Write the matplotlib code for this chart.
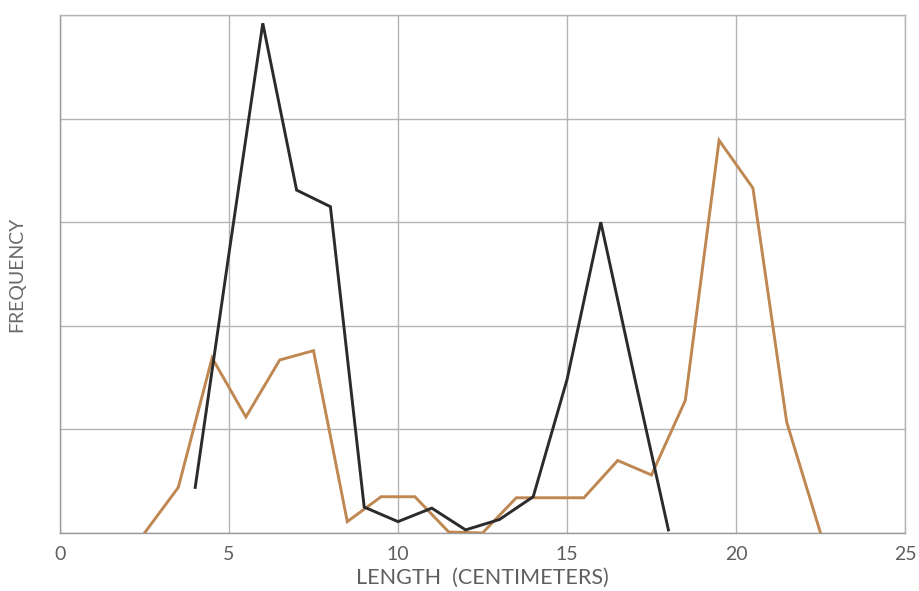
import matplotlib
matplotlib.use("Agg")
import matplotlib.pyplot as plt

# Black series: sampled at whole centimetres
black_x = [4, 5, 6, 7, 8, 9, 10, 11, 12, 13, 14, 15, 16, 17, 18]
black_y = [4.4, 27.0, 49.2, 33.1, 31.5, 2.5, 1.1, 2.4, 0.3, 1.3, 3.5, 14.8, 30.0, 15.0, 0.3]

# Orange series: sampled at half centimetres
orange_x = [2.5, 3.5, 4.5, 5.5, 6.5, 7.5, 8.5, 9.5, 10.5, 11.5, 12.5, 13.5,
            14.5, 15.5, 16.5, 17.5, 18.5, 19.5, 20.5, 21.5, 22.5]
orange_y = [0.0, 4.4, 16.9, 11.2, 16.7, 17.6, 1.1, 3.5, 3.5, 0.1, 0.0, 3.4,
            3.4, 3.4, 7.0, 5.6, 12.8, 37.9, 33.3, 10.7, 0.0]

x_ticks = [0, 5, 10, 15, 20, 25]
y_grid = [0, 10, 20, 30, 40, 50]

plt.rcParams["font.family"] = ["Lato", "DejaVu Sans"]

fig = plt.figure(figsize=(9.19, 5.91), dpi=100)
ax = fig.add_axes([60 / 919, (591 - 533) / 591, 845 / 919, 518 / 591])

grid_color = "#b4b4b4"
text_color = "#5f5f5f"
ax.set_xlim(0, 25)
ax.set_ylim(0, 50)
ax.set_xticks(x_ticks)
ax.set_yticks(y_grid)
ax.set_yticklabels([])
ax.grid(True, color=grid_color, linewidth=1.0)
ax.tick_params(axis="both", length=0, pad=9)
ax.tick_params(axis="x", labelsize=14, labelcolor=text_color)
for s in ax.spines.values():
    s.set_color(grid_color)
    s.set_linewidth(1.0)
ax.spines["bottom"].set_color("#999999")
ax.spines["left"].set_color("#999999")

ax.plot(orange_x, orange_y, color="#bf8752", linewidth=2.1, solid_joinstyle="miter", zorder=3)
ax.plot(black_x, black_y, color="#2b2b2b", linewidth=2.1, solid_joinstyle="miter", zorder=4)

ax.set_xlabel("LENGTH  (CENTIMETERS)", fontsize=15.5, color=text_color, labelpad=4)
ax.set_ylabel("FREQUENCY", fontsize=14, color="#6a6a6a")
ax.yaxis.set_label_coords(-35 / 845, 0.5)

fig.savefig("out.png", dpi=100, facecolor="white")
